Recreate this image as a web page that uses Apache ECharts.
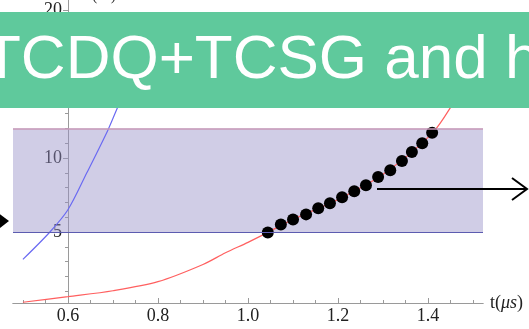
<!DOCTYPE html>
<html>
<head>
<meta charset="utf-8">
<script src="https://cdn.jsdelivr.net/npm/echarts@6/dist/echarts.min.js"></script>
<style>
  html, body { margin: 0; padding: 0; background: #fff; }
  #chart { width: 529px; height: 329px; }
</style>
</head>
<body>
<div id="chart"></div>
<script>
// curves
const redX = [0.5, 0.6, 0.7, 0.8, 0.9, 0.95, 1.0, 1.044, 1.1, 1.2, 1.3, 1.41, 1.46, 1.5];
const redY = [0.25, 0.63, 1.03, 1.64, 2.8, 3.6, 4.3, 4.97, 5.85, 7.2, 8.9, 11.7, 13.9, 15.8];
const blueX = [0.5, 0.56, 0.6, 0.642, 0.689, 0.71, 0.74];
const blueY = [3.15, 5.0, 6.5, 9.0, 11.9, 13.4, 15.5];
// black points on the red curve
const dotX = [1.044, 1.073, 1.1, 1.129, 1.156, 1.182, 1.209, 1.236, 1.262, 1.289, 1.316, 1.342, 1.364, 1.387, 1.409];
const dotY = [4.97, 5.51, 5.85, 6.19, 6.6, 6.94, 7.35, 7.76, 8.16, 8.71, 9.18, 9.8, 10.4, 11.0, 11.7];
// shaded window
const bandX = [0.478, 1.522];
const bandY = [5, 12];
// ticks
const xMajor = [0.6, 0.8, 1.0, 1.2, 1.4];
const xMinor = [0.5, 0.55, 0.6, 0.65, 0.7, 0.75, 0.8, 0.85, 0.9, 0.95, 1.0, 1.05, 1.1, 1.15, 1.2, 1.25, 1.3, 1.35, 1.4, 1.45, 1.5];
const yMajor = [5, 10, 15, 20];
const yMinor = [1, 2, 3, 4, 5, 6, 7, 8, 9, 10, 11, 12, 13, 14, 15, 16, 17, 18, 19, 20];
const bannerText = "TCDQ+TCSG and h";

const zip = (xs, ys) => xs.map((x, i) => [x, ys[i]]);

const serif = "'Liberation Serif', 'DejaVu Serif', serif";
const axisColor = "#9a9a9a";

const chart = echarts.init(document.getElementById("chart"));

const xBase = {
  type: "value",
  min: bandX[0],
  max: bandX[1],
  position: "bottom",
  splitLine: { show: false },
  axisLine: { lineStyle: { color: axisColor, width: 1 } }
};
const yBase = {
  type: "value",
  min: 0.2,
  max: 20.68,
  position: "left",
  offset: -55,
  splitLine: { show: false },
  axisLine: { show: true, lineStyle: { color: axisColor, width: 1 } }
};

chart.setOption({
  animation: false,
  grid: { left: 13, right: 46, top: 0, bottom: 26 },
  xAxis: [
    Object.assign({}, xBase, {
      axisTick: { inside: true, length: 3, customValues: xMinor, lineStyle: { color: axisColor } },
      axisLabel: { show: false }
    }),
    Object.assign({}, xBase, {
      axisTick: { inside: true, length: 5, customValues: xMajor, lineStyle: { color: axisColor } },
      axisLabel: {
        customValues: xMajor,
        formatter: v => v.toFixed(1),
        fontFamily: serif,
        fontSize: 18,
        color: "#222",
        margin: 4
      },
      name: "{a|t(}{i|μs}{a|)}",
      nameLocation: "end",
      nameGap: 7,
      nameTextStyle: {
        rich: {
          a: { fontFamily: serif, fontSize: 18, color: "#222" },
          i: { fontFamily: serif, fontSize: 18, fontStyle: "italic", color: "#222" }
        }
      }
    })
  ],
  yAxis: [
    Object.assign({}, yBase, {
      axisTick: { show: true, length: 3, customValues: yMinor, lineStyle: { color: axisColor } },
      axisLabel: { show: false }
    }),
    Object.assign({}, yBase, {
      axisTick: { show: true, length: 5, customValues: yMajor, lineStyle: { color: axisColor } },
      axisLabel: {
        customValues: yMajor,
        fontFamily: serif,
        fontSize: 18,
        color: "#222",
        margin: 6
      }
    })
  ],
  series: [
    {
      name: "band",
      type: "line",
      data: [],
      z: 1,
      markArea: {
        silent: true,
        itemStyle: { color: "rgba(150,145,200,0.45)" },
        data: [[{ xAxis: bandX[0], yAxis: bandY[0] }, { xAxis: bandX[1], yAxis: bandY[1] }]]
      },
      markLine: {
        silent: true,
        symbol: "none",
        label: { show: false },
        data: [
          { yAxis: bandY[0], lineStyle: { color: "#5c5cb0", width: 1.2, type: "solid" } },
          { yAxis: bandY[1], lineStyle: { color: "#c89ab8", width: 1.5, type: "solid" } }
        ]
      }
    },
    {
      name: "blue",
      type: "line",
      data: zip(blueX, blueY),
      smooth: 0.3,
      symbol: "none",
      z: 3,
      lineStyle: { color: "#6a6af2", width: 1.2 }
    },
    {
      name: "red",
      type: "line",
      data: zip(redX, redY),
      smooth: 0.3,
      symbol: "none",
      z: 3,
      lineStyle: { color: "#ff6060", width: 1.2 }
    },
    {
      name: "dots",
      type: "scatter",
      data: zip(dotX, dotY),
      symbolSize: 12,
      z: 4,
      itemStyle: { color: "#000", opacity: 1 }
    }
  ],
  graphic: [
    // cut-off y axis title above the banner
    {
      type: "text", left: 92, top: -12, z: 5,
      style: { text: "(%)", font: "16px " + serif, fill: "#333" }
    },
    // arrow pointing off to the right
    {
      type: "polyline", z: 6,
      shape: { points: [[377, 189], [527, 189]] },
      style: { stroke: "#000", lineWidth: 2 }
    },
    {
      type: "polyline", z: 6,
      shape: { points: [[512, 178], [527, 189], [512, 200]] },
      style: { stroke: "#000", lineWidth: 2, fill: null }
    },
    // arrow head at the left edge
    {
      type: "polygon", z: 6,
      shape: { points: [[9, 221], [-3, 212], [0, 228]] },
      style: { fill: "#000" }
    },
    // slide title banner
    {
      type: "rect", z: 10,
      shape: { x: 0, y: 12, width: 529, height: 96 },
      style: { fill: "#5fc99c" }
    },
    {
      type: "text", z: 11, x: -17, y: 61,
      style: {
        text: bannerText,
        font: "62px 'Liberation Sans', Arial, sans-serif",
        fill: "#fff",
        verticalAlign: "middle"
      }
    }
  ]
});
</script>
</body>
</html>
